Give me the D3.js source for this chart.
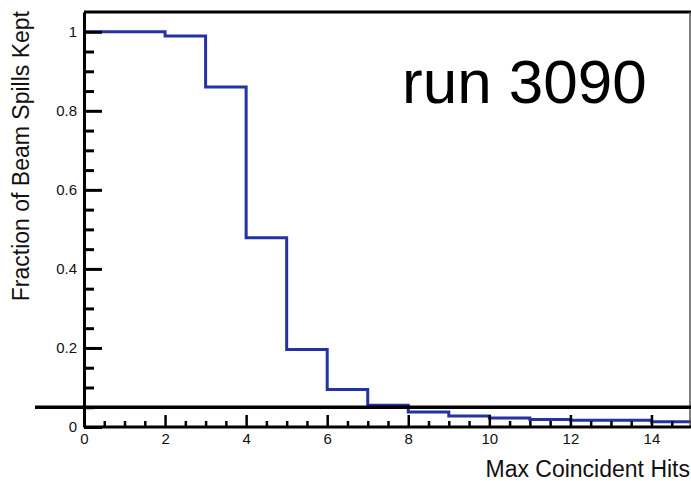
<!DOCTYPE html>
<html>
<head>
<meta charset="utf-8">
<script src="https://cdn.jsdelivr.net/npm/d3@7"></script>
<style>
  body { margin: 0; background: #fff; }
  svg { display: block; font-family: "Liberation Sans", Arial, sans-serif; }
</style>
</head>
<body>
<div id="chart"></div>
<script>
// Histogram bin edges (Max Coincident Hits) and fraction kept per bin
const binEdges = [0, 1, 2, 3, 4, 5, 6, 7, 8, 9, 10, 11, 12, 13, 14, 15];
const fractionKept = [1.0, 1.0, 0.989, 0.86, 0.479, 0.196, 0.095, 0.055, 0.038, 0.028, 0.023, 0.019, 0.017, 0.017, 0.013];
const xMajorTicks = [0, 2, 4, 6, 8, 10, 12, 14];
const yMajorTicks = [0, 0.2, 0.4, 0.6, 0.8, 1];
const cutValue = 0.05;
const runLabel = "run 3090";

let width = 691;
let height = 481;

const svg = d3.select('#chart')
  .append('svg')
  .attr('width', width)
  .attr('height', height)

// scales
const x = d3.scaleLinear().domain([0, 15]).range([84, 692])
const y = d3.scaleLinear().domain([0, 1.05]).range([427, 12])

// minor ticks every 0.5 on x and 0.05 on y
const xMinor = d3.range(0, 15.01, 0.5).filter(v => !xMajorTicks.includes(v))
const yMinor = d3.range(0, 1.001, 0.05).map(v => +v.toFixed(2)).filter(v => !yMajorTicks.includes(v))

// histogram step line
const pts = binEdges.map((e, i) => [e, i < fractionKept.length ? fractionKept[i] : fractionKept[fractionKept.length - 1]])
const line = d3.line().x(d => x(d[0])).y(d => y(d[1])).curve(d3.curveStepAfter)

svg.append('path')
  .datum(pts)
  .attr('d', line)
  .attr('fill', 'none')
  .attr('stroke', '#2433a3')
  .attr('stroke-width', 3)

// frame (top and right)
svg.append('line')
  .attr('x1', x(0)).attr('x2', width).attr('y1', y(1.05)).attr('y2', y(1.05))
  .attr('stroke', '#000').attr('stroke-width', 3)
svg.append('line')
  .attr('x1', 690).attr('x2', 690).attr('y1', y(1.05)).attr('y2', y(0))
  .attr('stroke', '#555').attr('stroke-width', 1.5)

// cut line
svg.append('line')
  .attr('x1', 35).attr('x2', width).attr('y1', y(cutValue)).attr('y2', y(cutValue))
  .attr('stroke', '#000').attr('stroke-width', 3.5)

// y axis: minor then major
svg.append('g')
  .attr('transform', 'translate(' + x(0) + ',0)')
  .call(d3.axisLeft(y).tickValues(yMinor).tickSize(-10).tickFormat(''))
  .call(g => g.select('.domain').remove())
  .selectAll('line').attr('stroke-width', 3)

const yAxis = svg.append('g')
  .attr('transform', 'translate(' + x(0) + ',0)')
  .call(d3.axisLeft(y).tickValues(yMajorTicks).tickSize(-18).tickSizeOuter(0).tickPadding(7).tickFormat(d3.format('~g')))
yAxis.select('.domain').attr('stroke-width', 3)
yAxis.selectAll('line').attr('stroke-width', 3)
yAxis.selectAll('text').attr('font-size', 15).attr('fill', '#111').style('font-family', '"Liberation Sans", Arial, sans-serif')

// x axis: minor then major
svg.append('g')
  .attr('transform', 'translate(0,' + y(0) + ')')
  .call(d3.axisBottom(x).tickValues(xMinor).tickSize(-6).tickFormat(''))
  .call(g => g.select('.domain').remove())
  .selectAll('line').attr('stroke-width', 2.5)

const xAxis = svg.append('g')
  .attr('transform', 'translate(0,' + y(0) + ')')
  .call(d3.axisBottom(x).tickValues(xMajorTicks).tickSize(-12).tickSizeOuter(0).tickPadding(6).tickFormat(d3.format('d')))
xAxis.select('.domain').attr('stroke-width', 3).attr('d', 'M' + x(0) + ',0H' + width)
xAxis.selectAll('line').attr('stroke-width', 2.5)
xAxis.selectAll('text').attr('font-size', 15).attr('fill', '#111').style('font-family', '"Liberation Sans", Arial, sans-serif')

// axis titles
svg.append('text')
  .attr('x', 690)
  .attr('y', 477)
  .attr('text-anchor', 'end')
  .attr('font-size', 23)
  .attr('fill', '#111')
  .text('Max Coincident Hits')

svg.append('text')
  .attr('transform', 'translate(29,11) rotate(-90)')
  .attr('text-anchor', 'end')
  .attr('font-size', 23)
  .attr('fill', '#111')
  .text('Fraction of Beam Spills Kept')

// run label
svg.append('text')
  .attr('x', 402)
  .attr('y', 103)
  .attr('font-size', 62)
  .attr('fill', '#000')
  .text(runLabel)
</script>
</body>
</html>
